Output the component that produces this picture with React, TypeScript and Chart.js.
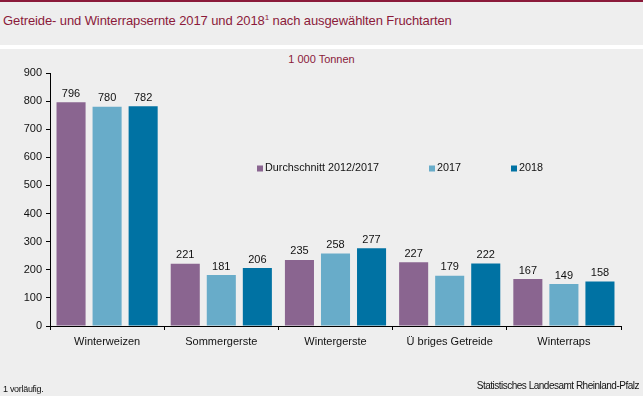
import React, { useEffect, useRef } from "react";
import { Chart, registerables } from "chart.js";

Chart.register(...registerables);

const categories = ["Winterweizen", "Sommergerste", "Wintergerste", "Ü briges Getreide", "Winterraps"];
const seriesNames = ["Durchschnitt 2012/2017", "2017", "2018"];
const avgValues = [796, 221, 235, 227, 167];
const values2017 = [780, 181, 258, 179, 149];
const values2018 = [782, 206, 277, 222, 158];
const seriesColors = ["#8a6590", "#68acc9", "#0072a3"];
const yTicks = [0, 100, 200, 300, 400, 500, 600, 700, 800, 900];

const FONT = "'Liberation Sans', Arial, sans-serif";

const valueLabels = {
  id: "valueLabels",
  afterDatasetsDraw(chart: any) {
    const ctx = chart.ctx;
    ctx.save();
    ctx.font = `11px ${FONT}`;
    ctx.fillStyle = "#111";
    ctx.textAlign = "center";
    ctx.textBaseline = "bottom";
    chart.data.datasets.forEach((ds: any, i: number) => {
      const meta = chart.getDatasetMeta(i);
      meta.data.forEach((bar: any, j: number) => {
        ctx.fillText(String(ds.data[j]), bar.x, bar.y - 3);
      });
    });
    ctx.restore();
  },
};

const innerLegend = {
  id: "innerLegend",
  afterDraw(chart: any) {
    const ctx = chart.ctx;
    const positions = [257, 429, 511];
    ctx.save();
    ctx.font = `10.8px ${FONT}`;
    ctx.textBaseline = "middle";
    ctx.textAlign = "left";
    const y = 168.5;
    chart.data.datasets.forEach((ds: any, i: number) => {
      const x = positions[i];
      ctx.fillStyle = ds.backgroundColor;
      ctx.fillRect(x, y - 3, 6, 6);
      ctx.fillStyle = "#111";
      ctx.fillText(ds.label, x + 8, y);
    });
    ctx.restore();
  },
};

export default function App() {
  const ref = useRef<HTMLCanvasElement>(null);
  useEffect(() => {
    if (!ref.current) return;
    const chart = new Chart(ref.current, {
      type: "bar",
      data: {
        labels: categories,
        datasets: [avgValues, values2017, values2018].map((d, i) => ({
          label: seriesNames[i],
          data: d,
          backgroundColor: seriesColors[i],
          categoryPercentage: 0.947,
          barPercentage: 0.806,
        })),
      },
      options: {
        animation: false,
        responsive: false,
        maintainAspectRatio: false,
        layout: { padding: { top: 73, right: 22, left: 0, bottom: 0 } },
        plugins: { legend: { display: false }, tooltip: { enabled: false } },
        scales: {
          x: {
            grid: { display: true, drawOnChartArea: false, offset: true, tickLength: 4, color: "#000", tickColor: "#000" },
            border: { color: "#000", width: 1 },
            ticks: { color: "#111", font: { family: FONT, size: 11 }, padding: 5, maxRotation: 0 },
            afterFit(scale: any) {
              scale.height = 70;
            },
          },
          y: {
            min: 0,
            max: 900,
            afterBuildTicks(scale: any) {
              scale.ticks = yTicks.map((v) => ({ value: v }));
            },
            grid: { display: true, drawOnChartArea: false, tickLength: 4, color: "#000", tickColor: "#000" },
            border: { color: "#000", width: 1 },
            ticks: { color: "#111", font: { family: FONT, size: 11 }, padding: 4 },
            afterFit(scale: any) {
              scale.width = 50;
            },
          },
        },
      },
      plugins: [valueLabels, innerLegend],
    });
    return () => chart.destroy();
  }, []);

  return (
    <div style={{ position: "fixed", left: 0, top: 0, width: 643, height: 396, background: "#eeeeee", overflow: "hidden", fontFamily: FONT }}>
      <div style={{ position: "absolute", left: 0, top: 0, width: 643, height: 2, background: "#8b1a3a" }} />
      <div style={{ position: "absolute", left: 0, top: 45, width: 643, height: 4, background: "#ffffff" }} />
      <div style={{ position: "absolute", left: 3, top: 13, fontSize: 13, color: "#8b1a3a", whiteSpace: "nowrap", letterSpacing: -0.1 }}>
        Getreide- und Winterrapsernte 2017 und 2018<sup style={{ fontSize: 8, verticalAlign: "top", lineHeight: 1, position: "relative", top: 1 }}>1</sup> nach ausgewählten Fruchtarten
      </div>
      <div style={{ position: "absolute", left: 0, width: 643, top: 53, textAlign: "center", fontSize: 11, color: "#8b1a3a" }}>
        <span style={{ position: "relative", left: 0 }}>1 000 Tonnen</span>
      </div>
      <canvas ref={ref} width={643} height={396} style={{ position: "absolute", left: 0, top: 0 }} />
      <div style={{ position: "absolute", left: 3, top: 384, fontSize: 9, color: "#111", letterSpacing: -0.3 }}>1 vorläufig.</div>
      <div style={{ position: "absolute", right: 4, top: 380, fontSize: 10, color: "#111", letterSpacing: -0.5 }}>Statistisches Landesamt Rheinland-Pfalz</div>
    </div>
  );
}
